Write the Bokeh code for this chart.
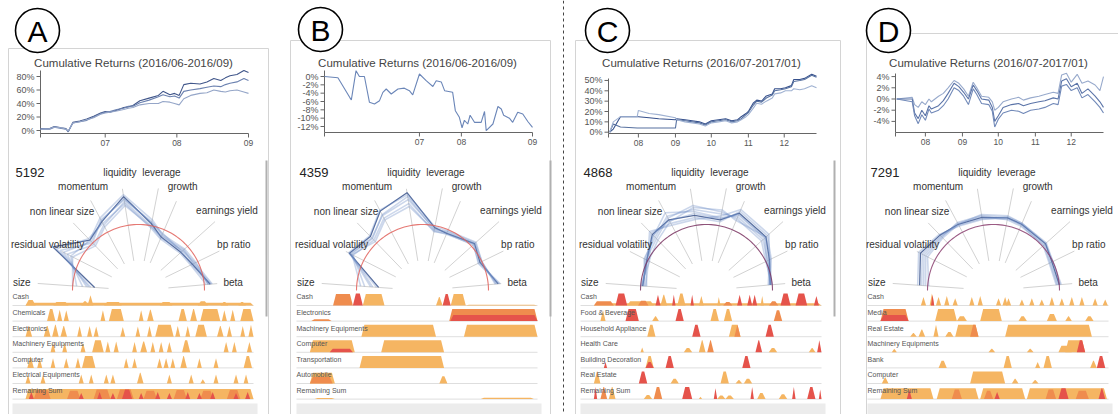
import math
from bokeh.plotting import figure
from bokeh.models import Range1d
from bokeh.core.properties import value
from bokeh.embed import file_html
from bokeh.resources import INLINE

# ============================ DATA ============================
FACTORS = ["size", "residual volatility", "non linear size", "momentum", "liquidity",
           "leverage", "growth", "earnings yield", "bp ratio", "beta"]

# ---- panel A ----
A_TITLE = "Cumulative Returns (2016/06-2016/09)"
A_DAY = [2, 6, 8, 11, 13, 14, 16, 19, 22, 25, 28, 30, 32, 35, 38, 40, 42, 45, 49, 53, 55, 58, 60, 62, 64,
         67, 71, 74, 77, 80, 82, 84, 87, 90, 92]
A_RET_1 = [3, 3, 6, 4, 3, -2, 12, 14, 17, 21, 26, 28, 27, 30, 34, 35, 37, 44, 48, 52, 58, 53, 55, 52, 68,
           70, 69, 72, 77, 74, 78, 81, 83, 89, 86]
A_RET_2 = [2, 2, 5, 3, 2, -1, 11, 13, 15, 20, 25, 27, 28, 31, 33, 36, 36, 41, 45, 50, 53, 50, 51, 48, 58,
           60, 62, 64, 66, 65, 68, 70, 72, 77, 74]
A_RET_3 = [2, 3, 5, 4, 2, -1, 11, 13, 16, 19, 24, 26, 27, 29, 31, 33, 34, 38, 40, 40, 43, 42, 40, 38, 47,
           52, 55, 56, 60, 58, 57, 59, 60, 57, 55]
A_XTICKS = [30, 61, 92]
A_XLABELS = ["07", "08", "09"]
A_YTICKS = [0, 20, 40, 60, 80]
A_COUNT = "5192"
A_EXPOSURE = [
    [44, 96, 70, 78, 95, 68, 58, 57, 60, 72],
    [50, 88, 66, 80, 92, 70, 60, 59, 62, 70],
    [56, 80, 64, 74, 90, 66, 57, 60, 63, 74],
    [62, 76, 70, 82, 97, 72, 61, 62, 64, 70],
    [48, 92, 72, 76, 88, 64, 56, 56, 58, 68],
    [66, 74, 62, 72, 86, 65, 59, 61, 61, 73],
    [52, 84, 68, 79, 93, 69, 62, 58, 59, 71],
]
A_ROWS = ["Cash", "Chemicals", "Electronics", "Machinery Equipments", "Computer",
          "Electrical Equipments", "Remaining Sum"]
A_HOLD = [
    [(2, 92, .22, 0), (2, 6, .45, 0), (13, 19, .3, 0), (24, 27, .35, 0), (26.5, 28.8, .85, 0),
     (33, 40, .3, 0), (55, 60, .3, 0), (70, 74, .35, 0), (79, 82, .3, 0), (86, 89, .3, 0)],
    [(10.5, 13.8, 1, 0), (14.5, 16.5, .95, 0), (17.1, 19.1, .9, 0), (31.6, 33.5, .9, 0), (34.9, 40.8, 1, 0),
     (46.7, 48.6, .9, 0), (50, 52.6, .95, 0), (62.4, 65.7, 1, 0), (67, 69.7, 1, 0), (71, 78.9, 1, 0),
     (79.5, 81.5, .9, 0), (82.8, 84.8, .95, 0), (86.8, 92, 1, 0)],
    [(2, 4.6, .9, 0), (9.2, 11.9, .9, 0), (12.5, 15.1, 1, 0), (15.8, 18.4, .9, 0), (22.4, 24.3, .9, 0),
     (26.3, 28.3, .9, 0), (28.9, 30.9, .85, 0), (39.4, 41.4, .8, 0), (45.4, 47.3, .85, 0), (50, 51.9, .9, 0),
     (53.2, 60.5, 1, 0), (61.1, 63.1, .9, 0), (65.1, 67, .9, 0), (69, 73.6, 1, 0), (77.6, 80.2, .9, 0),
     (81.5, 83.5, .9, 0), (86.8, 88.7, .9, 0), (90, 92, 1, 0)],
    [(11.9, 13.8, .8, 0), (16.5, 18.4, .8, 0), (23.7, 25.7, .8, 0), (28.3, 32.9, 1, 0), (33.5, 35.5, .9, 0),
     (36.8, 38.8, .9, 0), (44.1, 46, .85, 0), (47.3, 50, .9, 0), (51.3, 53.2, .85, 0), (54.6, 56.5, .85, 0),
     (57.8, 59.8, .85, 0), (63.8, 67, 1, 0), (80.2, 82.2, .85, 0), (83.5, 85.4, .85, 0), (89.4, 91.4, .85, 0)],
    [(2.7, 5.3, .9, 0), (6.6, 8.6, .8, 0), (11.9, 13.8, .8, 0), (17.1, 19.1, .8, 0), (21.7, 23.7, .85, 0),
     (24.3, 29.6, 1, 0), (40.8, 42.7, .8, 0), (44.1, 46, .8, 0), (53.9, 55.9, .8, 0), (56.5, 58.5, .8, 0),
     (59.2, 61.1, .8, 0), (63.1, 65.7, 1, 0), (69.7, 71.6, .8, 0), (76.2, 78.2, .8, 0), (88.1, 91.4, 1, 0)],
    [(2, 4, .7, 0), (7.9, 9.9, .7, 0), (23, 25, .75, 0), (27, 28.9, .75, 0), (32.9, 34.9, .75, 0),
     (35.5, 37.5, .75, 0), (46, 48.6, .9, 0), (57.8, 59.8, .75, 0), (66.4, 68.4, .75, 0), (71, 73, .35, 0),
     (76.2, 78.2, .75, 0), (84.1, 86.1, .75, 0), (88.1, 90, .75, 0)],
    [(2, 92, .85, 0),
     (5.3, 11.9, .75, 1), (18.4, 23.7, .7, 1), (28.9, 35.5, .8, 1), (38.1, 44.7, .8, 1), (48.6, 53.9, .7, 1),
     (60.5, 65.7, .75, 1), (71, 76.2, .7, 1), (81.5, 86.8, .75, 1),
     (3.3, 5.3, .6, 2), (23, 25, .5, 2), (30.3, 32.2, .6, 2), (35.5, 37.5, .5, 2), (40.1, 44.1, .8, 2),
     (46.7, 48.6, .5, 2), (53.2, 55.2, .6, 2), (57.8, 59.8, .5, 2), (65.1, 67, .6, 2), (69.7, 71.6, .5, 2),
     (74.9, 76.9, .6, 2), (84.1, 86.1, .5, 2), (88.7, 90.7, .6, 2)],
]

# ---- panel B ----
B_TITLE = "Cumulative Returns (2016/06-2016/09)"
B_SESSION = [0, 4, 7.5, 8, 9.4, 10.4, 11.9, 13.4, 14.9, 16.4, 17.4, 18.4, 19.9, 21.9, 23.8, 25.3, 26.3,
             28.3, 30.3, 32.3, 33.3, 34.8, 35.8, 38.2, 39, 40.2, 41, 41.7, 42.7, 43.4, 44.7, 46.7, 47.7,
             48.2, 50.2, 51.7, 52.7, 53.4, 55.1, 56.1, 57.6, 59.1, 60.6, 62]
B_RET = [0, -0.3, -5, -5.6, 1.4, 0, 0, -6.2, -6.6, -5.8, -3.8, -3, -4.2, -3, -2.8, -3.4, -4.4, 0.6, -1,
         -2.4, -1, -1.3, -3.4, -3.8, -8.2, -9.8, -12.3, -10.5, -11.4, -9.3, -11, -11, -8.4, -13, -11.4,
         -7.2, -7.8, -9.3, -10, -11, -8.6, -9, -10.8, -12.2]
B_XTICKS = [28.3, 40.8, 62]
B_XLABELS = ["07", "08", "09"]
B_YTICKS = [0, -2, -4, -6, -8, -10, -12]
B_COUNT = "4359"
B_EXPOSURE = [
    [44, 82, 75, 90, 99, 64, 62, 70, 64, 76],
    [50, 80, 72, 86, 95, 62, 64, 71, 66, 74],
    [58, 78, 70, 82, 88, 60, 62, 68, 63, 78],
    [46, 83, 76, 91, 97, 65, 65, 72, 66, 73],
    [62, 79, 68, 80, 85, 61, 61, 69, 62, 77],
    [52, 81, 73, 85, 92, 63, 63, 70, 65, 75],
]
B_ROWS = ["Cash", "Electronics", "Machinery Equipments", "Computer", "Transportation",
          "Automobile", "Remaining Sum"]
B_HOLD = [
    [(6.4, 11.8, .95, 1), (11.8, 14.5, 1, 2), (14.5, 20.4, .95, 0), (34.4, 36.2, .7, 0),
     (36.2, 38.4, .95, 2), (38.4, 42.5, .95, 0), (42.5, 61.9, .06, 0)],
    [(0.5, 6, .15, 1), (38, 62, 1, 1), (38.3, 62, .5, 2)],
    [(14.1, 34.4, 1, 0), (42, 62, 1, 0)],
    [(0.1, 12.3, 1, 0), (5.5, 11.8, .3, 2), (19.5, 36.6, 1, 0)],
    [(13.6, 36.6, 1, 0)],
    [(0.1, 6.9, .9, 0), (0.1, 6.3, .55, 1), (35.3, 37.5, .6, 0)],
    [(1.4, 6.9, .1, 0), (46.6, 61, .12, 0)],
]

# ---- panel C ----
C_TITLE = "Cumulative Returns (2016/07-2017/01)"
C_DAY = [7, 10, 16, 30, 31, 40, 48, 62, 63, 70, 76, 82, 87, 92, 98, 104, 109, 114, 117, 121, 123, 127,
         130, 134, 138, 143, 145, 150, 154, 159, 161, 166, 170, 176, 180]
C_RET_1 = [0, 3, 15, 15, 15, 14, 13, 12, 13, 12, 11, 10, 8, 11, 12, 13, 11, 12, 15, 18, 20, 28, 31, 30,
           35, 37, 42, 42, 43, 45, 51, 51, 52, 56, 54]
C_RET_2 = [0, 8, 5, 4, 4, 4, 4, 4, 12, 11, 10, 9, 7, 10, 11, 12, 10, 11, 13, 17, 19, 26, 30, 29, 33,
           36, 40, 41, 42, 44, 49, 50, 51, 55, 53]
C_RET_3 = [0, 10, 15, 15, 21, 18, 17, 14, 12, 10, 9, 8, 6, 9, 10, 11, 9, 10, 12, 15, 17, 23, 28, 27,
           30, 33, 37, 38, 40, 40, 42, 41, 42, 45, 43]
C_XTICKS = [31, 62, 92, 123, 153]
C_XLABELS = ["08", "09", "10", "11", "12"]
C_YTICKS = [0, 10, 20, 30, 40, 50]
C_COUNT = "4868"
C_EXPOSURE = [
    [64, 67, 78, 80, 76, 72, 84, 80, 70, 64],
    [62, 70, 74, 84, 82, 78, 80, 76, 68, 65],
    [66, 64, 80, 76, 74, 70, 86, 82, 72, 63],
    [60, 68, 72, 82, 86, 80, 78, 74, 66, 66],
    [65, 66, 82, 74, 72, 76, 88, 84, 70, 62],
    [63, 69, 76, 88, 80, 74, 82, 78, 67, 64],
    [61, 65, 70, 78, 84, 82, 76, 80, 71, 65],
    [64, 67, 77, 79, 78, 73, 83, 79, 69, 64],
]
C_ROWS = ["Cash", "Food & Beverage", "Household Appliance", "Health Care", "Building Decoration",
          "Real Estate", "Remaining Sum"]
C_HOLD = [
    [(6.3, 180, .18, 0), (6.3, 21.5, .35, 1), (40, 48, .4, 1), (105, 112, .3, 1), (140, 147, .35, 1),
     (22.8, 31.7, 1, 2), (31.7, 52, .35, 0), (53.3, 57.1, .9, 2), (57.1, 62.2, .9, 0), (66, 68.6, .9, 2),
     (69.9, 76.2, 1, 0), (80, 82.6, .9, 2), (86.4, 90.2, .8, 0), (100.4, 102.9, .7, 0),
     (115.6, 119.5, .9, 2), (123.3, 127.1, .9, 2), (127.1, 130.9, .9, 2), (133.5, 136, .8, 0),
     (148.7, 156.4, 1, 2), (160.2, 169.1, 1, 2), (174.2, 178, .8, 2)],
    [(11.3, 15.2, .9, 0), (30.4, 40.6, 1, 2), (50.8, 55.9, .4, 0), (68.6, 74.9, 1, 2), (95.3, 101.7, 1, 0),
     (105.5, 111.8, 1, 0), (143.6, 150, .9, 1)],
    [(47, 53.3, 1, 0), (81.3, 87.7, 1, 2), (109.3, 118.2, 1, 0), (113.5, 118.2, 1, 1), (137.3, 143.6, 1, 2)],
    [(41.9, 44.4, .4, 0), (74.9, 81.3, .35, 0), (86.4, 91.5, 1, 0), (92.8, 97.8, 1, 1), (129.6, 134.7, 1, 2),
     (139.8, 146.2, .35, 0), (170.3, 175.4, .35, 0), (176.7, 180, 1, 2)],
    [(13.9, 16.4, .5, 2), (45.7, 52, 1, 0), (45.7, 52, .5, 2), (61, 67.3, 1, 2), (119.5, 125.8, 1, 2)],
    [(6.3, 11.3, 1, 0), (40.6, 47, 1, 2), (64.8, 71.1, .4, 0), (102.9, 109.3, 1, 0), (114.4, 119.5, .3, 0),
     (120.7, 127.1, .4, 0)],
    [(6.3, 8.8, 1, 2), (11.3, 16.4, 1, 1), (17.7, 22.8, 1, 0), (44.4, 50.8, .35, 0), (52, 58.4, 1, 1),
     (73.7, 81.3, 1, 2), (86.4, 88.9, .2, 0), (97.8, 100.4, .9, 2), (100.4, 106.7, .3, 0),
     (106.7, 113.1, .3, 0), (125.8, 128.4, 1, 2), (130.9, 137.3, .5, 0), (147.4, 153.8, .4, 0),
     (157.6, 160.2, 1, 2), (169.1, 175.4, 1, 2), (178, 180, .8, 2)],
]

# ---- panel D ----
D_TITLE = "Cumulative Returns (2016/07-2017/01)"
D_DAY = [7, 20, 22, 25, 28, 31, 34, 36, 42, 46, 50, 55, 59, 63, 67, 71, 74, 78, 84, 87, 89, 92, 96, 103,
         109, 113, 119, 126, 131, 138, 142, 145, 149, 153, 158, 162, 167, 173, 177, 180]
D_RET_1 = [0, 0.3, -1, -1.5, -0.5, -1, 0, -0.5, 0.5, 1, 2, 3.3, 2.8, 1.8, 0.5, 3, 2, 0.5, 0.3, -0.5,
           -2, -1.5, -0.5, 0, 0.3, -0.2, 0.2, 0.5, 0.8, 1.2, 1, 4.3, 4.6, 3, 4.4, 2.8, 3.2, 2.5, 1.5, 4]
D_RET_2 = [0, 0, -2.5, -3.5, -2, -3, -1.2, -1.8, -1.2, -0.3, 1, 2.8, 2.2, 1.2, 0, 2.5, 1.5, 0, -0.2,
           -1.5, -4, -3, -1.5, -1, -0.8, -1.2, -0.8, -0.5, -0.3, 0.2, 0, 3.2, 3.6, 2.2, 2.8, 1, 1.8, 0.5,
           -0.5, -1.5]
D_RET_3 = [0, -0.5, -3, -4.4, -2.8, -3.8, -1.8, -2.5, -2, -1.2, 0, 2, 1.5, 0.5, -1, 1.8, 0.8, -0.8, -1,
           -2.2, -5, -3.6, -2.5, -2, -2.2, -2.6, -2, -1.8, -1.5, -0.8, -1, 2.3, 2.6, 1.5, 2, 0.2, 0.8,
           -0.5, -1.5, -2.5]
D_XTICKS = [31, 62, 92, 123, 153]
D_XLABELS = ["08", "09", "10", "11", "12"]
D_YTICKS = [-4, -2, 0, 2, 4]
D_COUNT = "7291"
D_EXPOSURE = [
    [74, 82, 77, 75, 74, 74, 72, 70, 65, 66],
    [70, 78, 75, 76, 75, 72, 70, 68, 63, 64],
    [76, 84, 78, 73, 72, 75, 73, 71, 66, 67],
    [68, 76, 74, 77, 76, 74, 71, 67, 62, 63],
    [72, 80, 76, 74, 73, 73, 72, 69, 64, 65],
    [65, 74, 73, 75, 77, 76, 73, 70, 66, 68],
]
D_ROWS = ["Cash", "Media", "Real Estate", "Machinery Equipments", "Bank", "Computer", "Remaining Sum"]
D_HOLD = [
    [(36.8, 40.8, .7, 0), (43.5, 47, 1, 0), (44.5, 47, .9, 2), (48.3, 52.3, .7, 0), (54.6, 58.6, .8, 0),
     (61, 65, .6, 0), (73.7, 77.7, .7, 0), (80.1, 84.1, .8, 0), (94.1, 98.1, .6, 0), (99.1, 103.1, .7, 0),
     (101.7, 105.7, .6, 0), (111.9, 115.9, .5, 0), (119.5, 123.5, .6, 0), (127.1, 131.1, .5, 0),
     (134.8, 138.8, .7, 0), (142.4, 146.4, .6, 0), (150, 154, .7, 0), (157.7, 161.7, .7, 0),
     (167.8, 171.8, .6, 0), (175.5, 179.5, .5, 0)],
    [(6, 27.4, 1, 1), (6, 27.4, .5, 2), (47.7, 64.3, 1, 0), (64.3, 71.9, .4, 0), (82.1, 98.6, 1, 0),
     (111.3, 117.7, .4, 0), (133, 140.6, .6, 0), (147, 152, .4, 0), (162.2, 168.6, .4, 0)],
    [(28.6, 33.7, .3, 0), (35, 40.1, .6, 0), (46.4, 50.3, 1, 0), (55.4, 61.7, .4, 0), (63, 80.8, 1, 0),
     (74.4, 80.8, 1, 1), (101.1, 167.3, 1, 0)],
    [(14.6, 18.5, .3, 0), (88.4, 93.5, .3, 0), (117.7, 122.8, .3, 0), (141.8, 152, .55, 0),
     (147, 162.2, 1, 0), (155.8, 162.2, 1, 2)],
    [(50.3, 56.6, .6, 0), (99.9, 106.2, 1, 0), (124, 127.9, .5, 0), (130.4, 136.8, 1, 0),
     (166, 171.1, .6, 0), (171.1, 177.5, 1, 2)],
    [(7, 12.1, .5, 0), (74.4, 101.1, 1, 0), (106.2, 111.3, .4, 0), (121.5, 126.6, .3, 0)],
    [(6, 46.4, .9, 0), (48.9, 80.8, .9, 0), (82.1, 116.4, .9, 0), (117.7, 178.8, .9, 0),
     (60.4, 68.1, .8, 1), (85, 92, .7, 1), (132, 140, .8, 1), (155, 165, .7, 1),
     (26.1, 29.9, .8, 2), (93, 97, .6, 2), (141.8, 149.5, .9, 2), (172.4, 177.5, .9, 2)],
]

# ============================ LAYOUT / STYLE ============================
W, H = 1118, 414
FONT = "Liberation Sans"
AXIS_C = "#666666"
TEXT_C = "#333333"
LAYER_COLORS = ["#f5b562", "#ef8c4e", "#e5534b"]
FACTOR_ANGLE = [176, 153, 134, 118, 99, 79, 67, 42, 26, 5]
LABEL_R = [117, 102, 110, 118, 119, 120, 113, 119, 106, 95]
REF_R = 66

PANELS = [
    dict(letter="A", off=0, circ=(37, 30), frame=(8, 48, 268), ret_y=(133, 70), ydom=(-4.44, 88.9),
         xdom=(2, 92), title=A_TITLE, x=A_DAY, series=[A_RET_1, A_RET_2, A_RET_3],
         colors=["#40568a", "#6c82b0", "#95a6c8"], xt=A_XTICKS, xl=A_XLABELS, yt=A_YTICKS,
         count=A_COUNT, expo=A_EXPOSURE, ref="#e0605a", rows=A_ROWS, hold=A_HOLD),
    dict(letter="B", off=284, circ=(320, 29), frame=(290, 40, 550), ret_y=(132, 70), ydom=(-13.44, 1.44),
         xdom=(0, 62), title=B_TITLE, x=B_SESSION, series=[B_RET],
         colors=["#6b86b8"], xt=B_XTICKS, xl=B_XLABELS, yt=B_YTICKS,
         count=B_COUNT, expo=B_EXPOSURE, ref="#e0605a", rows=B_ROWS, hold=B_HOLD),
    dict(letter="C", off=568, circ=(607, 30), frame=(575, 40, 840), ret_y=(133, 78), ydom=(-1.26, 51.9),
         xdom=(6, 180), title=C_TITLE, x=C_DAY, series=[C_RET_1, C_RET_2, C_RET_3],
         colors=["#36508c", "#56709f", "#a0b2d2"], xt=C_XTICKS, xl=C_XLABELS, yt=C_YTICKS,
         count=C_COUNT, expo=C_EXPOSURE, ref="#7a3462", rows=C_ROWS, hold=C_HOLD),
    dict(letter="D", off=855, circ=(888, 30), frame=(866, 33, 1130), ret_y=(132, 73), ydom=(-5.98, 4.55),
         xdom=(6, 180), title=D_TITLE, x=D_DAY, series=[D_RET_1, D_RET_2, D_RET_3],
         colors=["#98aacc", "#5b74a8", "#7189b8"], xt=D_XTICKS, xl=D_XLABELS, yt=D_YTICKS,
         count=D_COUNT, expo=D_EXPOSURE, ref="#8a3e6e", rows=D_ROWS, hold=D_HOLD),
]

p = figure(width=W, height=H, x_range=Range1d(0, W), y_range=Range1d(H, 0),
           x_axis_type=None, y_axis_type=None, output_backend="svg", toolbar_location=None,
           min_border=0)
p.grid.visible = False
p.outline_line_color = None
p.background_fill_color = "white"
p.border_fill_color = "white"


def txt(target, xs, ys, texts, size, color=TEXT_C, align="left", baseline="middle"):
    target.text(x=xs, y=ys, text=texts, text_font=value(FONT), text_font_size=f"{size}px",
                text_color=color, text_align=align, text_baseline=baseline)


# dashed separator
p.line([563, 563], [0, H], line_color="#444444", line_width=1, line_dash="3 3")

for pan in PANELS:
    off = pan["off"]
    fl, ft, fr = pan["frame"]
    # frame / panel decorations
    p.quad(left=[fl], right=[fr], top=[ft], bottom=[H + 10], fill_color="white", fill_alpha=1,
           line_color="#d4d4d4", line_width=1)
    p.quad(left=[12 + off], right=[257 + off], top=[403], bottom=[414], fill_color="#ececec",
           line_color=None)
    p.line([266 + off, 266 + off], [160, 316], line_color="#b0b0b0", line_width=2)
    cx0, cy0 = pan["circ"]
    p.circle(x=[cx0], y=[cy0], radius=22, fill_color="white", line_color="black", line_width=1.6)
    txt(p, [cx0], [cy0 + 1], [pan["letter"]], 30, color="black", align="center")

    # ---------------- cumulative returns chart ----------------
    xdom, ydom, ytg = pan["xdom"], pan["ydom"], pan["ret_y"]
    xtg = (40 + off, 248 + off)
    s = p.subplot(x_source=Range1d(*xdom), y_source=Range1d(*ydom),
                  x_target=Range1d(*xtg), y_target=Range1d(*ytg))
    kx = (xdom[1] - xdom[0]) / (xtg[1] - xtg[0])
    ky = (ydom[1] - ydom[0]) / (ytg[0] - ytg[1])
    s.line([xdom[0], xdom[0]], [ydom[0], ydom[1]], line_color=AXIS_C, line_width=1)
    s.line([xdom[0], xdom[1]], [ydom[0], ydom[0]], line_color=AXIS_C, line_width=1)
    yt = pan["yt"]
    s.segment(x0=[xdom[0] - 4 * kx] * len(yt), y0=yt, x1=[xdom[0]] * len(yt), y1=yt,
              line_color=AXIS_C, line_width=1)
    txt(s, [xdom[0] - 6 * kx] * len(yt), yt, [f"{v}%" for v in yt], 9, color="#555555", align="right")
    xt = [xdom[0]] + pan["xt"]
    s.segment(x0=xt, y0=[ydom[0]] * len(xt), x1=xt, y1=[ydom[0] - 4 * ky] * len(xt),
              line_color=AXIS_C, line_width=1)
    txt(s, pan["xt"], [ydom[0] - 9 * ky] * len(pan["xt"]), pan["xl"], 8.5, color="#555555",
        align="center")
    for ser, col in zip(pan["series"], pan["colors"]):
        s.line(pan["x"], ser, line_color=col, line_width=1.1)
    txt(p, [133 + off], [62], [pan["title"]], 11.5, color="#444444", align="center")

    # ---------------- factor exposure radial chart ----------------
    cx, cy = 138 + off, 290
    r = p.subplot(x_source=Range1d(-100, 100), y_source=Range1d(0, 100),
                  x_target=Range1d(cx - 100, cx + 100), y_target=Range1d(cy, cy - 100))
    ang = [math.radians(a) for a in FACTOR_ANGLE]
    r.segment(x0=[30 * math.cos(a) for a in ang], y0=[30 * math.sin(a) for a in ang],
              x1=[(lr - 16) * math.cos(a) for lr, a in zip(LABEL_R, ang)],
              y1=[(lr - 16) * math.sin(a) for lr, a in zip(LABEL_R, ang)],
              line_color="#d2d2d2", line_width=1)
    for k, prof in enumerate(pan["expo"]):
        xs = [v * math.cos(a) for v, a in zip(prof, ang)]
        ys = [v * math.sin(a) for v, a in zip(prof, ang)]
        if k == 0:
            r.line(xs, ys, line_color="#2e4a86", line_alpha=0.8, line_width=1.3)
        else:
            r.line(xs, ys, line_color="#6e8cc6", line_alpha=0.35, line_width=1.6)
    th = [math.pi * i / 90 for i in range(91)]
    r.line([REF_R * math.cos(t) for t in th], [REF_R * math.sin(t) for t in th],
           line_color=pan["ref"], line_alpha=0.85, line_width=1.1)
    txt(r, [lr * math.cos(a) for lr, a in zip(LABEL_R, ang)],
        [lr * math.sin(a) for lr, a in zip(LABEL_R, ang)], FACTORS, 10, color="#333333",
        align="center")
    txt(p, [15 + off], [172], [pan["count"]], 13, color="#222222")

    # ---------------- holdings stream rows ----------------
    upp = (xdom[1] - xdom[0]) / 228.0
    xs0 = xdom[0] - 13 * upp
    st = p.subplot(x_source=Range1d(xs0, xdom[1]), y_source=Range1d(0, 6),
                   x_target=Range1d(12 + off, 253 + off), y_target=Range1d(398.6, 305))
    ramp = 3 * upp
    hs = 12 / 15.6
    polys = {0: ([], []), 1: ([], []), 2: ([], [])}
    for i, (name, bumps) in enumerate(zip(pan["rows"], pan["hold"])):
        base = 6 - i
        st.line([xs0, xdom[1]], [base, base], line_color="#d6d6d6", line_width=0.8)
        for (a, b, h, layer) in bumps:
            a, b = max(a, xdom[0]), min(b, xdom[1])
            rr = min(ramp, (b - a) / 2)
            polys[layer][0].append([a, a + rr, b - rr, b])
            polys[layer][1].append([base, base + h * hs, base + h * hs, base])
    for layer in (0, 1, 2):
        if polys[layer][0]:
            st.patches(polys[layer][0], polys[layer][1], fill_color=LAYER_COLORS[layer],
                       line_color=None)
    txt(st, [xs0] * 7, [6 - i + 0.55 for i in range(7)], pan["rows"], 7, color="#555555")

open("out.html", "w").write(file_html(p, INLINE))
